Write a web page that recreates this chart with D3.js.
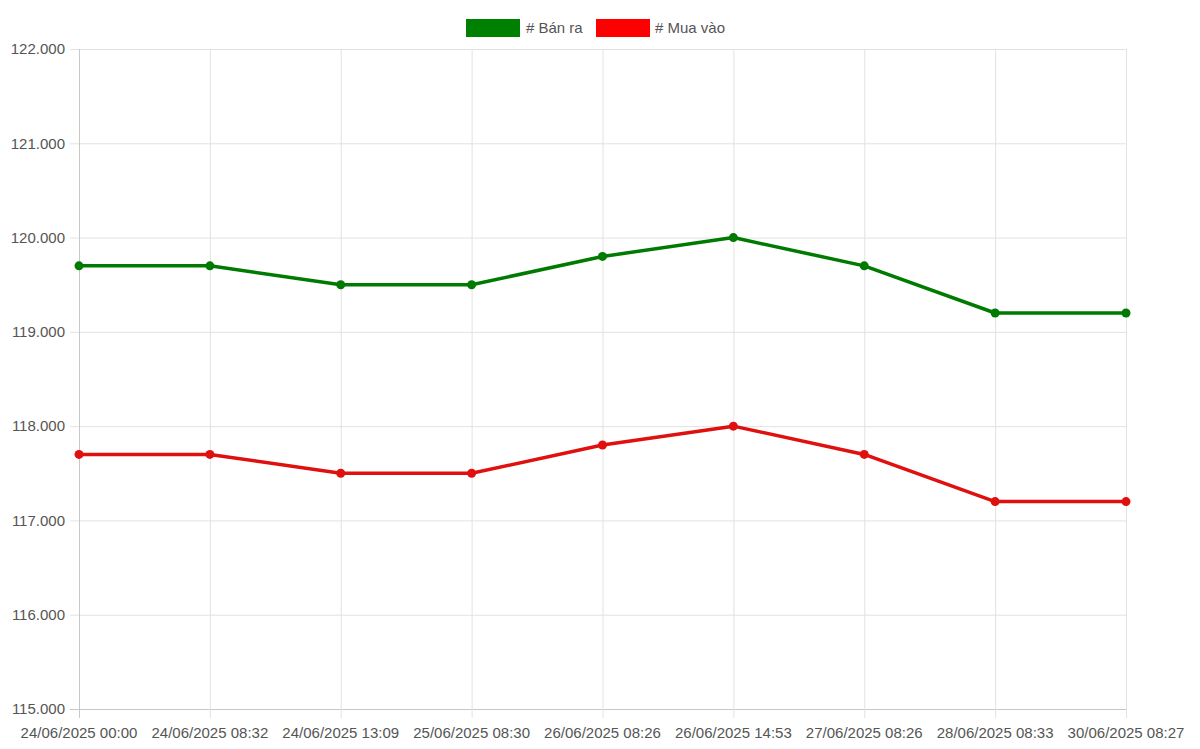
<!DOCTYPE html>
<html><head><meta charset="utf-8">
<script src="https://cdn.jsdelivr.net/npm/d3@7"></script>
<style>body{margin:0;background:#fff}svg{display:block}text{font-family:"Liberation Sans",Arial,sans-serif}</style>
</head><body>
<svg id="c" width="1200" height="749"></svg>
<script>
const categories = ["24/06/2025 00:00","24/06/2025 08:32","24/06/2025 13:09","25/06/2025 08:30","26/06/2025 08:26","26/06/2025 14:53","27/06/2025 08:26","28/06/2025 08:33","30/06/2025 08:27"];
const banRa = [119.7,119.7,119.5,119.5,119.8,120.0,119.7,119.2,119.2];
const muaVao = [117.7,117.7,117.5,117.5,117.8,118.0,117.7,117.2,117.2];
const yTicks = [115,116,117,118,119,120,121,122];
const seriesNames = ["# Bán ra","# Mua vào"];

const svg = d3.select("#c");
const L=79, R=1126, T=49, B=709;
const x = d3.scalePoint().domain(categories).range([L,R]);
const y = d3.scaleLinear().domain([115,122]).range([B,T]);

const g = svg.append("g");
g.selectAll(".hy").data(yTicks).join("line")
 .attr("x1",L-9).attr("x2",R).attr("y1",d=>y(d)+0.5).attr("y2",d=>y(d)+0.5)
 .attr("stroke",d=>d===115?"#c8c8c8":"#e2e2e2").attr("stroke-width",1);
g.selectAll(".vx").data(categories).join("line")
 .attr("x1",d=>x(d)+0.5).attr("x2",d=>x(d)+0.5).attr("y1",T).attr("y2",B+9)
 .attr("stroke",(d,i)=>i===0?"#c8c8c8":"#e2e2e2").attr("stroke-width",1);

g.selectAll(".yl").data(yTicks).join("text")
 .attr("x",L-14).attr("y",d=>y(d)).attr("dy","0.35em").attr("text-anchor","end")
 .attr("font-size",15).attr("fill","#555").text(d=>d.toFixed(3));
g.selectAll(".xl").data(categories).join("text")
 .attr("x",d=>x(d)).attr("y",B+29).attr("text-anchor","middle")
 .attr("font-size",15).attr("fill","#555").text(d=>d);

const series = [{name:seriesNames[0],vals:banRa,color:"#007a00",fill:"#008000"},{name:seriesNames[1],vals:muaVao,color:"#e0100f",fill:"#ff0000"}];
const line = d3.line().x((d,i)=>x(categories[i])).y(d=>y(d));
series.forEach(s=>{
  svg.append("path").attr("d",line(s.vals)).attr("fill","none").attr("stroke",s.color).attr("stroke-width",3.5).attr("stroke-linejoin","round");
  svg.append("g").selectAll("circle").data(s.vals).join("circle")
   .attr("cx",(d,i)=>x(categories[i])).attr("cy",d=>y(d)).attr("r",4.5).attr("fill",s.color);
});

const leg = [{x:466,tx:526},{x:596,tx:655}];
series.forEach((s,i)=>{
  svg.append("rect").attr("x",leg[i].x).attr("y",19).attr("width",54).attr("height",18).attr("fill",s.fill);
  svg.append("text").attr("x",leg[i].tx).attr("y",28).attr("dy","0.35em").attr("font-size",15).attr("fill","#555").text(s.name);
});
</script>
</body></html>
